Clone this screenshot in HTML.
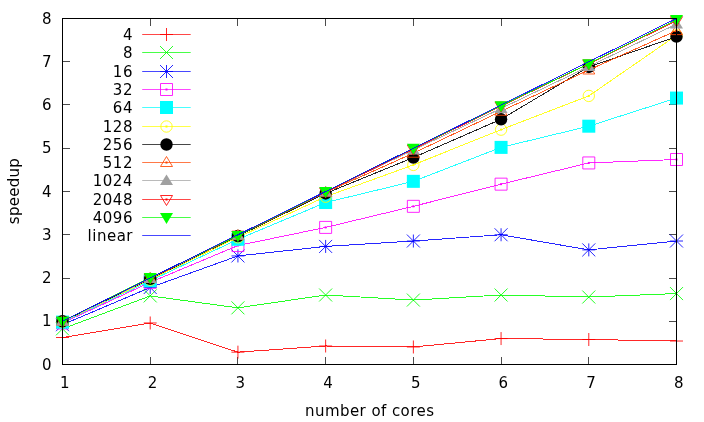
<!DOCTYPE html>
<html><head><meta charset="utf-8"><title>speedup</title>
<style>html,body{margin:0;padding:0;background:#fff}svg{display:block;will-change:transform}</style></head>
<body><svg width="704" height="422" viewBox="0 0 704 422">
<rect width="704" height="422" fill="#fff"/>
<path d="M150.5 364.5v-7.5M150.5 18.5v7.5M237.5 364.5v-7.5M237.5 18.5v7.5M325.5 364.5v-7.5M325.5 18.5v7.5M413.5 364.5v-7.5M413.5 18.5v7.5M501.5 364.5v-7.5M501.5 18.5v7.5M588.5 364.5v-7.5M588.5 18.5v7.5M62.5 321.5h7.5M676.5 321.5h-7.5M62.5 278.5h7.5M676.5 278.5h-7.5M62.5 234.5h7.5M676.5 234.5h-7.5M62.5 191.5h7.5M676.5 191.5h-7.5M62.5 148.5h7.5M676.5 148.5h-7.5M62.5 104.5h7.5M676.5 104.5h-7.5M62.5 61.5h7.5M676.5 61.5h-7.5" shape-rendering="crispEdges" stroke="#000" stroke-opacity="0.7" stroke-width="1" fill="none"/>
<g font-family="DejaVu Sans, Liberation Sans, sans-serif" font-size="15" fill="#000">
<text x="51.6" y="369.70" text-anchor="end">0</text>
<text x="51.6" y="326.45" text-anchor="end">1</text>
<text x="51.6" y="283.20" text-anchor="end">2</text>
<text x="51.6" y="239.95" text-anchor="end">3</text>
<text x="51.6" y="196.70" text-anchor="end">4</text>
<text x="51.6" y="153.45" text-anchor="end">5</text>
<text x="51.6" y="110.20" text-anchor="end">6</text>
<text x="51.6" y="66.95" text-anchor="end">7</text>
<text x="51.6" y="23.70" text-anchor="end">8</text>
<text x="64.80" y="387.5" text-anchor="middle">1</text>
<text x="152.51" y="387.5" text-anchor="middle">2</text>
<text x="240.23" y="387.5" text-anchor="middle">3</text>
<text x="327.94" y="387.5" text-anchor="middle">4</text>
<text x="415.66" y="387.5" text-anchor="middle">5</text>
<text x="503.37" y="387.5" text-anchor="middle">6</text>
<text x="591.09" y="387.5" text-anchor="middle">7</text>
<text x="678.80" y="387.5" text-anchor="middle">8</text>
<text x="369.5" y="415.5" text-anchor="middle" textLength="129" lengthAdjust="spacing">number of cores</text>
<text transform="translate(18.8,191.2) rotate(-90)" text-anchor="middle" textLength="66" lengthAdjust="spacing">speedup</text>
<text x="133.0" y="40.00" text-anchor="end" letter-spacing="0.55">4</text>
<text x="133.0" y="58.00" text-anchor="end" letter-spacing="0.55">8</text>
<text x="133.0" y="77.00" text-anchor="end" letter-spacing="0.55">16</text>
<text x="133.0" y="95.00" text-anchor="end" letter-spacing="0.55">32</text>
<text x="133.0" y="113.00" text-anchor="end" letter-spacing="0.55">64</text>
<text x="133.0" y="132.00" text-anchor="end" letter-spacing="0.55">128</text>
<text x="133.0" y="150.00" text-anchor="end" letter-spacing="0.55">256</text>
<text x="133.0" y="168.00" text-anchor="end" letter-spacing="0.55">512</text>
<text x="133.0" y="186.00" text-anchor="end" letter-spacing="0.55">1024</text>
<text x="133.0" y="205.00" text-anchor="end" letter-spacing="0.55">2048</text>
<text x="133.0" y="223.00" text-anchor="end" letter-spacing="0.55">4096</text>
<text x="133.0" y="241.00" text-anchor="end" letter-spacing="0.5">linear</text>
</g>
<g stroke-width="1" stroke-linejoin="round">
<path d="M142.2 34.5H190.7" stroke="#ff0000" stroke-opacity="0.72" fill="none"/>
<path d="M160.00 34.50H173.00M166.50 28.00V41.00" stroke="#ff0000" stroke-opacity="0.85" fill="none"/>
<polyline points="62.50,337.51 150.21,322.98 237.93,352.17 325.64,345.99 413.36,346.98 501.07,338.55 588.79,339.50 676.50,341.02" stroke="#ff0000" stroke-opacity="0.85" fill="none" shape-rendering="crispEdges"/>
<path d="M56.00 337.51H69.00M62.50 331.01V344.01" stroke="#ff0000" stroke-opacity="0.85" fill="none"/>
<path d="M143.71 322.98H156.71M150.21 316.48V329.48" stroke="#ff0000" stroke-opacity="0.85" fill="none"/>
<path d="M231.43 352.17H244.43M237.93 345.67V358.67" stroke="#ff0000" stroke-opacity="0.85" fill="none"/>
<path d="M319.14 345.99H332.14M325.64 339.49V352.49" stroke="#ff0000" stroke-opacity="0.85" fill="none"/>
<path d="M406.86 346.98H419.86M413.36 340.48V353.48" stroke="#ff0000" stroke-opacity="0.85" fill="none"/>
<path d="M494.57 338.55H507.57M501.07 332.05V345.05" stroke="#ff0000" stroke-opacity="0.85" fill="none"/>
<path d="M582.29 339.50H595.29M588.79 333.00V346.00" stroke="#ff0000" stroke-opacity="0.85" fill="none"/>
<path d="M670.00 341.02H683.00M676.50 334.52V347.52" stroke="#ff0000" stroke-opacity="0.85" fill="none"/>
<path d="M142.2 52.5H190.7" stroke="#00ff00" stroke-opacity="0.72" fill="none"/>
<path d="M160.00 46.00L173.00 59.00M160.00 59.00L173.00 46.00" stroke="#00ff00" stroke-opacity="0.85" fill="none"/>
<polyline points="62.50,328.82 150.21,295.91 237.93,307.84 325.64,295.00 413.36,300.06 501.07,295.00 588.79,297.03 676.50,293.57" stroke="#00ff00" stroke-opacity="0.85" fill="none" shape-rendering="crispEdges"/>
<path d="M56.00 322.32L69.00 335.32M56.00 335.32L69.00 322.32" stroke="#00ff00" stroke-opacity="0.85" fill="none"/>
<path d="M143.71 289.41L156.71 302.41M143.71 302.41L156.71 289.41" stroke="#00ff00" stroke-opacity="0.85" fill="none"/>
<path d="M231.43 301.34L244.43 314.34M231.43 314.34L244.43 301.34" stroke="#00ff00" stroke-opacity="0.85" fill="none"/>
<path d="M319.14 288.50L332.14 301.50M319.14 301.50L332.14 288.50" stroke="#00ff00" stroke-opacity="0.85" fill="none"/>
<path d="M406.86 293.56L419.86 306.56M406.86 306.56L419.86 293.56" stroke="#00ff00" stroke-opacity="0.85" fill="none"/>
<path d="M494.57 288.50L507.57 301.50M494.57 301.50L507.57 288.50" stroke="#00ff00" stroke-opacity="0.85" fill="none"/>
<path d="M582.29 290.53L595.29 303.53M582.29 303.53L595.29 290.53" stroke="#00ff00" stroke-opacity="0.85" fill="none"/>
<path d="M670.00 287.07L683.00 300.07M670.00 300.07L683.00 287.07" stroke="#00ff00" stroke-opacity="0.85" fill="none"/>
<path d="M142.2 71.5H190.7" stroke="#0000ff" stroke-opacity="0.72" fill="none"/>
<path d="M160.00 71.50H173.00M166.50 65.00V78.00M160.00 65.00L173.00 78.00M160.00 78.00L173.00 65.00" stroke="#0000ff" stroke-opacity="0.85" fill="none"/>
<polyline points="62.50,324.71 150.21,287.51 237.93,255.94 325.64,246.43 413.36,241.02 501.07,234.75 588.79,249.89 676.50,241.02" stroke="#0000ff" stroke-opacity="0.85" fill="none" shape-rendering="crispEdges"/>
<path d="M56.00 324.71H69.00M62.50 318.21V331.21M56.00 318.21L69.00 331.21M56.00 331.21L69.00 318.21" stroke="#0000ff" stroke-opacity="0.85" fill="none"/>
<path d="M143.71 287.51H156.71M150.21 281.01V294.01M143.71 281.01L156.71 294.01M143.71 294.01L156.71 281.01" stroke="#0000ff" stroke-opacity="0.85" fill="none"/>
<path d="M231.43 255.94H244.43M237.93 249.44V262.44M231.43 249.44L244.43 262.44M231.43 262.44L244.43 249.44" stroke="#0000ff" stroke-opacity="0.85" fill="none"/>
<path d="M319.14 246.43H332.14M325.64 239.93V252.93M319.14 239.93L332.14 252.93M319.14 252.93L332.14 239.93" stroke="#0000ff" stroke-opacity="0.85" fill="none"/>
<path d="M406.86 241.02H419.86M413.36 234.52V247.52M406.86 234.52L419.86 247.52M406.86 247.52L419.86 234.52" stroke="#0000ff" stroke-opacity="0.85" fill="none"/>
<path d="M494.57 234.75H507.57M501.07 228.25V241.25M494.57 228.25L507.57 241.25M494.57 241.25L507.57 228.25" stroke="#0000ff" stroke-opacity="0.85" fill="none"/>
<path d="M582.29 249.89H595.29M588.79 243.39V256.39M582.29 243.39L595.29 256.39M582.29 256.39L595.29 243.39" stroke="#0000ff" stroke-opacity="0.85" fill="none"/>
<path d="M670.00 241.02H683.00M676.50 234.52V247.52M670.00 234.52L683.00 247.52M670.00 247.52L683.00 234.52" stroke="#0000ff" stroke-opacity="0.85" fill="none"/>
<path d="M142.2 89.5H190.7" stroke="#ff00ff" stroke-opacity="0.72" fill="none"/>
<rect x="160.50" y="83.50" width="12" height="12" stroke="#ff00ff" stroke-opacity="0.85" fill="none"/><rect x="165.50" y="88.50" width="2" height="2" fill="#ff00ff"/>
<polyline points="62.50,322.98 150.21,282.32 237.93,245.56 325.64,227.40 413.36,206.33 501.07,184.15 588.79,162.95 676.50,159.50" stroke="#ff00ff" stroke-opacity="0.85" fill="none" shape-rendering="crispEdges"/>
<rect x="56.50" y="316.98" width="12" height="12" stroke="#ff00ff" stroke-opacity="0.85" fill="none"/><rect x="61.50" y="321.98" width="2" height="2" fill="#ff00ff"/>
<rect x="144.21" y="276.32" width="12" height="12" stroke="#ff00ff" stroke-opacity="0.85" fill="none"/><rect x="149.21" y="281.32" width="2" height="2" fill="#ff00ff"/>
<rect x="231.93" y="239.56" width="12" height="12" stroke="#ff00ff" stroke-opacity="0.85" fill="none"/><rect x="236.93" y="244.56" width="2" height="2" fill="#ff00ff"/>
<rect x="319.64" y="221.40" width="12" height="12" stroke="#ff00ff" stroke-opacity="0.85" fill="none"/><rect x="324.64" y="226.40" width="2" height="2" fill="#ff00ff"/>
<rect x="407.36" y="200.33" width="12" height="12" stroke="#ff00ff" stroke-opacity="0.85" fill="none"/><rect x="412.36" y="205.33" width="2" height="2" fill="#ff00ff"/>
<rect x="495.07" y="178.15" width="12" height="12" stroke="#ff00ff" stroke-opacity="0.85" fill="none"/><rect x="500.07" y="183.15" width="2" height="2" fill="#ff00ff"/>
<rect x="582.79" y="156.95" width="12" height="12" stroke="#ff00ff" stroke-opacity="0.85" fill="none"/><rect x="587.79" y="161.95" width="2" height="2" fill="#ff00ff"/>
<rect x="670.50" y="153.50" width="12" height="12" stroke="#ff00ff" stroke-opacity="0.85" fill="none"/><rect x="675.50" y="158.50" width="2" height="2" fill="#ff00ff"/>
<path d="M142.2 107.5H190.7" stroke="#00ffff" stroke-opacity="0.72" fill="none"/>
<rect x="160.00" y="101.00" width="13" height="13" fill="#00ffff"/>
<polyline points="62.50,322.12 150.21,280.81 237.93,239.29 325.64,202.53 413.36,181.34 501.07,147.39 588.79,126.19 676.50,98.08" stroke="#00ffff" stroke-opacity="0.85" fill="none" shape-rendering="crispEdges"/>
<rect x="56.00" y="315.62" width="13" height="13" fill="#00ffff"/>
<rect x="143.71" y="274.31" width="13" height="13" fill="#00ffff"/>
<rect x="231.43" y="232.79" width="13" height="13" fill="#00ffff"/>
<rect x="319.14" y="196.03" width="13" height="13" fill="#00ffff"/>
<rect x="406.86" y="174.84" width="13" height="13" fill="#00ffff"/>
<rect x="494.57" y="140.89" width="13" height="13" fill="#00ffff"/>
<rect x="582.29" y="119.69" width="13" height="13" fill="#00ffff"/>
<rect x="670.00" y="91.58" width="13" height="13" fill="#00ffff"/>
<path d="M142.2 126.5H190.7" stroke="#ffff00" stroke-opacity="0.72" fill="none"/>
<circle cx="166.50" cy="126.50" r="5.7" stroke="#ffff00" stroke-opacity="0.85" fill="none"/><rect x="165.50" y="125.50" width="2" height="2" fill="#ffff00"/>
<polyline points="62.50,321.68 150.21,279.73 237.93,237.34 325.64,196.69 413.36,164.90 501.07,129.65 588.79,95.92 676.50,35.37" stroke="#ffff00" stroke-opacity="0.85" fill="none" shape-rendering="crispEdges"/>
<circle cx="62.50" cy="321.68" r="5.7" stroke="#ffff00" stroke-opacity="0.85" fill="none"/><rect x="61.50" y="320.68" width="2" height="2" fill="#ffff00"/>
<circle cx="150.21" cy="279.73" r="5.7" stroke="#ffff00" stroke-opacity="0.85" fill="none"/><rect x="149.21" y="278.73" width="2" height="2" fill="#ffff00"/>
<circle cx="237.93" cy="237.34" r="5.7" stroke="#ffff00" stroke-opacity="0.85" fill="none"/><rect x="236.93" y="236.34" width="2" height="2" fill="#ffff00"/>
<circle cx="325.64" cy="196.69" r="5.7" stroke="#ffff00" stroke-opacity="0.85" fill="none"/><rect x="324.64" y="195.69" width="2" height="2" fill="#ffff00"/>
<circle cx="413.36" cy="164.90" r="5.7" stroke="#ffff00" stroke-opacity="0.85" fill="none"/><rect x="412.36" y="163.90" width="2" height="2" fill="#ffff00"/>
<circle cx="501.07" cy="129.65" r="5.7" stroke="#ffff00" stroke-opacity="0.85" fill="none"/><rect x="500.07" y="128.65" width="2" height="2" fill="#ffff00"/>
<circle cx="588.79" cy="95.92" r="5.7" stroke="#ffff00" stroke-opacity="0.85" fill="none"/><rect x="587.79" y="94.92" width="2" height="2" fill="#ffff00"/>
<circle cx="676.50" cy="35.37" r="5.7" stroke="#ffff00" stroke-opacity="0.85" fill="none"/><rect x="675.50" y="34.37" width="2" height="2" fill="#ffff00"/>
<path d="M142.2 144.5H190.7" stroke="#000000" stroke-opacity="0.72" fill="none"/>
<circle cx="166.50" cy="144.50" r="6.2" fill="#000000"/>
<polyline points="62.50,321.25 150.21,278.87 237.93,236.05 325.64,193.45 413.36,157.55 501.07,119.27 588.79,66.94 676.50,36.67" stroke="#000000" stroke-opacity="0.85" fill="none" shape-rendering="crispEdges"/>
<circle cx="62.50" cy="321.25" r="6.2" fill="#000000"/>
<circle cx="150.21" cy="278.87" r="6.2" fill="#000000"/>
<circle cx="237.93" cy="236.05" r="6.2" fill="#000000"/>
<circle cx="325.64" cy="193.45" r="6.2" fill="#000000"/>
<circle cx="413.36" cy="157.55" r="6.2" fill="#000000"/>
<circle cx="501.07" cy="119.27" r="6.2" fill="#000000"/>
<circle cx="588.79" cy="66.94" r="6.2" fill="#000000"/>
<circle cx="676.50" cy="36.67" r="6.2" fill="#000000"/>
<path d="M142.2 162.5H190.7" stroke="#ff4500" stroke-opacity="0.72" fill="none"/>
<path d="M166.50 156.50L172.50 166.50H160.50Z" stroke="#ff4500" stroke-opacity="0.85" fill="none"/><rect x="165.50" y="161.50" width="2" height="2" fill="#ff4500"/>
<polyline points="62.50,321.25 150.21,278.43 237.93,235.62 325.64,192.37 413.36,153.22 501.07,111.27 588.79,69.97 676.50,30.61" stroke="#ff4500" stroke-opacity="0.85" fill="none" shape-rendering="crispEdges"/>
<path d="M62.50 315.25L68.50 325.25H56.50Z" stroke="#ff4500" stroke-opacity="0.85" fill="none"/><rect x="61.50" y="320.25" width="2" height="2" fill="#ff4500"/>
<path d="M150.21 272.43L156.21 282.43H144.21Z" stroke="#ff4500" stroke-opacity="0.85" fill="none"/><rect x="149.21" y="277.43" width="2" height="2" fill="#ff4500"/>
<path d="M237.93 229.62L243.93 239.62H231.93Z" stroke="#ff4500" stroke-opacity="0.85" fill="none"/><rect x="236.93" y="234.62" width="2" height="2" fill="#ff4500"/>
<path d="M325.64 186.37L331.64 196.37H319.64Z" stroke="#ff4500" stroke-opacity="0.85" fill="none"/><rect x="324.64" y="191.37" width="2" height="2" fill="#ff4500"/>
<path d="M413.36 147.22L419.36 157.22H407.36Z" stroke="#ff4500" stroke-opacity="0.85" fill="none"/><rect x="412.36" y="152.22" width="2" height="2" fill="#ff4500"/>
<path d="M501.07 105.27L507.07 115.27H495.07Z" stroke="#ff4500" stroke-opacity="0.85" fill="none"/><rect x="500.07" y="110.27" width="2" height="2" fill="#ff4500"/>
<path d="M588.79 63.97L594.79 73.97H582.79Z" stroke="#ff4500" stroke-opacity="0.85" fill="none"/><rect x="587.79" y="68.97" width="2" height="2" fill="#ff4500"/>
<path d="M676.50 24.61L682.50 34.61H670.50Z" stroke="#ff4500" stroke-opacity="0.85" fill="none"/><rect x="675.50" y="29.61" width="2" height="2" fill="#ff4500"/>
<path d="M142.2 180.5H190.7" stroke="#a0a0a0" stroke-opacity="0.72" fill="none"/>
<path d="M166.50 174.50L173.00 185.00H160.00Z" fill="#a0a0a0"/>
<polyline points="62.50,321.25 150.21,278.43 237.93,235.18 325.64,191.93 413.36,149.98 501.07,108.46 588.79,66.51 676.50,24.12" stroke="#a0a0a0" stroke-opacity="0.85" fill="none" shape-rendering="crispEdges"/>
<path d="M62.50 315.25L69.00 325.75H56.00Z" fill="#a0a0a0"/>
<path d="M150.21 272.43L156.71 282.93H143.71Z" fill="#a0a0a0"/>
<path d="M237.93 229.18L244.43 239.68H231.43Z" fill="#a0a0a0"/>
<path d="M325.64 185.93L332.14 196.43H319.14Z" fill="#a0a0a0"/>
<path d="M413.36 143.98L419.86 154.48H406.86Z" fill="#a0a0a0"/>
<path d="M501.07 102.46L507.57 112.96H494.57Z" fill="#a0a0a0"/>
<path d="M588.79 60.51L595.29 71.01H582.29Z" fill="#a0a0a0"/>
<path d="M676.50 18.12L683.00 28.62H670.00Z" fill="#a0a0a0"/>
<path d="M142.2 199.5H190.7" stroke="#ff0000" stroke-opacity="0.72" fill="none"/>
<path d="M166.50 205.50L172.50 195.50H160.50Z" stroke="#ff0000" stroke-opacity="0.85" fill="none"/><rect x="165.50" y="198.50" width="2" height="2" fill="#ff0000"/>
<polyline points="62.50,321.25 150.21,278.00 237.93,235.18 325.64,191.93 413.36,149.11 501.07,106.08 588.79,63.91 676.50,20.66" stroke="#ff0000" stroke-opacity="0.85" fill="none" shape-rendering="crispEdges"/>
<path d="M62.50 327.25L68.50 317.25H56.50Z" stroke="#ff0000" stroke-opacity="0.85" fill="none"/><rect x="61.50" y="320.25" width="2" height="2" fill="#ff0000"/>
<path d="M150.21 284.00L156.21 274.00H144.21Z" stroke="#ff0000" stroke-opacity="0.85" fill="none"/><rect x="149.21" y="277.00" width="2" height="2" fill="#ff0000"/>
<path d="M237.93 241.18L243.93 231.18H231.93Z" stroke="#ff0000" stroke-opacity="0.85" fill="none"/><rect x="236.93" y="234.18" width="2" height="2" fill="#ff0000"/>
<path d="M325.64 197.93L331.64 187.93H319.64Z" stroke="#ff0000" stroke-opacity="0.85" fill="none"/><rect x="324.64" y="190.93" width="2" height="2" fill="#ff0000"/>
<path d="M413.36 155.11L419.36 145.11H407.36Z" stroke="#ff0000" stroke-opacity="0.85" fill="none"/><rect x="412.36" y="148.11" width="2" height="2" fill="#ff0000"/>
<path d="M501.07 112.08L507.07 102.08H495.07Z" stroke="#ff0000" stroke-opacity="0.85" fill="none"/><rect x="500.07" y="105.08" width="2" height="2" fill="#ff0000"/>
<path d="M588.79 69.91L594.79 59.91H582.79Z" stroke="#ff0000" stroke-opacity="0.85" fill="none"/><rect x="587.79" y="62.91" width="2" height="2" fill="#ff0000"/>
<path d="M676.50 26.66L682.50 16.66H670.50Z" stroke="#ff0000" stroke-opacity="0.85" fill="none"/><rect x="675.50" y="19.66" width="2" height="2" fill="#ff0000"/>
<path d="M142.2 217.5H190.7" stroke="#00ff00" stroke-opacity="0.72" fill="none"/>
<path d="M166.50 224.10L173.00 213.00H160.00Z" fill="#00ff00"/>
<polyline points="62.50,321.25 150.21,277.57 237.93,235.62 325.64,191.50 413.36,148.25 501.07,105.65 588.79,63.70 676.50,19.58" stroke="#00ff00" stroke-opacity="0.85" fill="none" shape-rendering="crispEdges"/>
<path d="M62.50 327.85L69.00 316.75H56.00Z" fill="#00ff00"/>
<path d="M150.21 284.17L156.71 273.07H143.71Z" fill="#00ff00"/>
<path d="M237.93 242.22L244.43 231.12H231.43Z" fill="#00ff00"/>
<path d="M325.64 198.10L332.14 187.00H319.14Z" fill="#00ff00"/>
<path d="M413.36 154.85L419.86 143.75H406.86Z" fill="#00ff00"/>
<path d="M501.07 112.25L507.57 101.15H494.57Z" fill="#00ff00"/>
<path d="M588.79 70.30L595.29 59.20H582.29Z" fill="#00ff00"/>
<path d="M676.50 26.18L683.00 15.08H670.00Z" fill="#00ff00"/>
<path d="M142.2 235.5H190.7" stroke="#0000ff" stroke-opacity="0.72" fill="none"/>
<polyline points="62.50,321.25 150.21,278.00 237.93,234.75 325.64,191.50 413.36,148.25 501.07,105.00 588.79,61.75 676.50,18.50" stroke="#0000ff" stroke-opacity="0.85" fill="none" shape-rendering="crispEdges"/>
</g>
<g shape-rendering="crispEdges" stroke="#000" stroke-width="1" fill="none">
<rect x="62.5" y="18.5" width="614.0" height="346.0"/>
</g>
</svg></body></html>
